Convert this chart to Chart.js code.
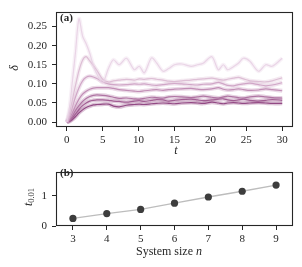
<!DOCTYPE html>
<html>
<head>
<meta charset="utf-8">
<script src="https://cdn.jsdelivr.net/npm/chart.js@4/dist/chart.umd.min.js"></script>
<style>
  body { margin: 0; background: #fff; }
  #wrap { position: relative; width: 302px; height: 267px; }
  canvas { position: absolute; left: 0; }
  #top { top: 0; }
  #bottom { top: 160px; }
</style>
</head>
<body>
<div id="wrap">
  <canvas id="top" width="302" height="160"></canvas>
  <canvas id="bottom" width="302" height="107"></canvas>
</div>
<script>
// time samples shared by all curves of panel (a)
const times = [0, 0.4, 0.8, 1.2, 1.7, 2.2, 2.7, 3.2, 3.7, 4.2, 5, 5.8, 6.5,
  7.3, 8.3, 9.4, 10.1, 10.8, 11.8, 12.5, 13.4, 14.2, 15, 16, 17.3, 18.2, 19,
  20.2, 21.1, 21.8, 22.4, 23.2, 23.9, 24.6, 25.5, 26.7, 27.7, 28.6, 30];

// delta(t) for each system size, lightest (n=3) to darkest (n=9)
const deltaN3 = [0, 0.04, 0.11, 0.18, 0.27, 0.225, 0.205, 0.18, 0.148, 0.125, 0.103, 0.14, 0.163,
  0.15, 0.167, 0.137, 0.146, 0.129, 0.168, 0.155, 0.133, 0.14, 0.15, 0.152, 0.146, 0.15, 0.154,
  0.171, 0.137, 0.15, 0.137, 0.145, 0.154, 0.167, 0.159, 0.133, 0.15, 0.146, 0.167];
const deltaN4 = [0, 0.025, 0.06, 0.095, 0.135, 0.162, 0.171, 0.16, 0.148, 0.135, 0.112, 0.105, 0.108,
  0.11, 0.112, 0.11, 0.113, 0.112, 0.114, 0.112, 0.11, 0.107, 0.106, 0.108, 0.11, 0.112, 0.113,
  0.115, 0.112, 0.11, 0.112, 0.115, 0.117, 0.113, 0.108, 0.106, 0.105, 0.108, 0.116];
const deltaN5 = [0, 0.015, 0.04, 0.065, 0.09, 0.108, 0.117, 0.12, 0.118, 0.114, 0.105, 0.1, 0.098,
  0.097, 0.098, 0.1, 0.099, 0.1, 0.097, 0.096, 0.098, 0.1, 0.101, 0.1, 0.098, 0.097, 0.099,
  0.1, 0.104, 0.1, 0.096, 0.095, 0.098, 0.1, 0.102, 0.098, 0.095, 0.097, 0.103];
const deltaN6 = [0, 0.01, 0.025, 0.042, 0.06, 0.073, 0.081, 0.086, 0.089, 0.09, 0.09, 0.09, 0.088,
  0.085, 0.083, 0.081, 0.08, 0.082, 0.084, 0.085, 0.083, 0.085, 0.086, 0.087, 0.088, 0.086, 0.085,
  0.087, 0.09, 0.086, 0.084, 0.085, 0.087, 0.085, 0.083, 0.084, 0.087, 0.085, 0.082];
const deltaN7 = [0, 0.006, 0.016, 0.03, 0.043, 0.054, 0.062, 0.067, 0.07, 0.071, 0.07, 0.068, 0.065,
  0.062, 0.063, 0.061, 0.06, 0.062, 0.065, 0.064, 0.063, 0.066, 0.067, 0.066, 0.064, 0.066, 0.068,
  0.065, 0.063, 0.066, 0.068, 0.066, 0.064, 0.063, 0.066, 0.068, 0.066, 0.064, 0.063];
const deltaN8 = [0, 0.004, 0.011, 0.021, 0.033, 0.043, 0.05, 0.055, 0.057, 0.058, 0.058, 0.057, 0.055,
  0.054, 0.052, 0.055, 0.056, 0.054, 0.057, 0.059, 0.058, 0.055, 0.057, 0.059, 0.06, 0.058, 0.056,
  0.058, 0.06, 0.061, 0.058, 0.056, 0.058, 0.06, 0.057, 0.055, 0.057, 0.059, 0.057];
const deltaN9 = [0, 0.002, 0.007, 0.014, 0.024, 0.032, 0.038, 0.042, 0.045, 0.046, 0.047, 0.047, 0.042,
  0.04, 0.044, 0.046, 0.047, 0.046, 0.048, 0.049, 0.05, 0.049, 0.048, 0.05, 0.051, 0.05, 0.049,
  0.052, 0.05, 0.048, 0.05, 0.051, 0.05, 0.049, 0.05, 0.051, 0.05, 0.049, 0.049];

const deltaSeries = [deltaN3, deltaN4, deltaN5, deltaN6, deltaN7, deltaN8, deltaN9];
const lineColors = [
  [232, 210, 228], [218, 184, 210], [204, 160, 194], [188, 134, 176],
  [170, 106, 156], [154, 82, 140], [138, 60, 123],
];

// panel (b)
const systemSizes = [3, 4, 5, 6, 7, 8, 9];
const threshTimes = [0.25, 0.41, 0.55, 0.755, 0.96, 1.15, 1.355];

const topXTicks = [0, 5, 10, 15, 20, 25, 30];
const topYTicks = [0, 0.05, 0.10, 0.15, 0.20, 0.25];
const bottomXTicks = [3, 4, 5, 6, 7, 8, 9];
const bottomYTicks = [0, 1];

const INK = '#262626';
const SERIF = "'Liberation Serif', serif";

const tickFont = { family: SERIF, size: 11 };

function axisStyle(ticks, extra) {
  return {
    type: 'linear',
    grid: { drawOnChartArea: false, drawTicks: true, tickLength: 4, tickColor: INK, tickWidth: 1 },
    border: { display: false },
    afterBuildTicks: s => { s.ticks = ticks.map(v => ({ value: v })); },
    ticks: { color: INK, font: tickFont, ...extra },
  };
}

// box around the plot area plus hand-placed labels
const frame = {
  id: 'frame',
  afterDraw(chart, args, opts) {
    const { ctx, chartArea: a } = chart;
    ctx.save();
    ctx.strokeStyle = INK;
    ctx.lineWidth = 1.1;
    ctx.strokeRect(Math.round(a.left) + 0.5, Math.round(a.top) + 0.5,
      Math.round(a.right - a.left) - 1, Math.round(a.bottom - a.top) - 1);
    ctx.fillStyle = INK;
    if (opts.draw) opts.draw(ctx);
    ctx.restore();
  },
};

function drawRuns(ctx, x, y, runs, align) {
  // runs: [text, font, dy]
  let total = 0;
  runs.forEach(r => { ctx.font = r[1]; total += ctx.measureText(r[0]).width; });
  let cx = align === 'center' ? x - total / 2 : x;
  runs.forEach(r => {
    ctx.font = r[1];
    ctx.fillText(r[0], cx, y + (r[2] || 0));
    cx += ctx.measureText(r[0]).width;
  });
}

// ---- panel (a)
const topDatasets = [];
deltaSeries.forEach((vals, i) => {
  const c = lineColors[i].join(',');
  const pts = times.map((t, k) => ({ x: t, y: vals[k] }));
  topDatasets.push({
    data: pts, borderColor: `rgba(${c},0.3)`, borderWidth: 4,
    pointRadius: 0, tension: 0.3, fill: false,
  });
  topDatasets.push({
    data: pts, borderColor: `rgba(${c},0.9)`, borderWidth: 1.2,
    pointRadius: 0, tension: 0.3, fill: false,
  });
});

new Chart(document.getElementById('top'), {
  type: 'line',
  data: { datasets: topDatasets },
  options: {
    responsive: false,
    animation: false,
    devicePixelRatio: 1,
    layout: { padding: { top: 9, right: 9, left: 0, bottom: 0 } },
    plugins: {
      legend: { display: false },
      tooltip: { enabled: false },
      frame: {
        draw(ctx) {
          ctx.textBaseline = 'middle';
          ctx.textAlign = 'left';
          ctx.font = `bold 11px ${SERIF}`;
          ctx.fillText('(a)', 60, 18.5);
          ctx.font = `italic 12px ${SERIF}`;
          ctx.textAlign = 'center';
          ctx.fillText('t', 176, 151);
          ctx.save();
          ctx.translate(15, 68);
          ctx.rotate(-Math.PI / 2);
          ctx.fillText('δ', 0, 0);
          ctx.restore();
        },
      },
    },
    scales: {
      x: {
        ...axisStyle(topXTicks, { padding: 3 }),
        min: -1.5, max: 31.5,
        afterFit: s => { s.height = 33; },
      },
      y: {
        ...axisStyle(topYTicks, { padding: 5, callback: v => v.toFixed(2) }),
        min: -0.0128, max: 0.289,
        afterFit: s => { s.width = 56; },
      },
    },
  },
  plugins: [frame],
});

// ---- panel (b)
new Chart(document.getElementById('bottom'), {
  type: 'line',
  data: {
    datasets: [{
      data: systemSizes.map((n, k) => ({ x: n, y: threshTimes[k] })),
      borderColor: '#bdbdbd',
      borderWidth: 1.3,
      pointRadius: 3.6,
      pointBackgroundColor: '#3d3d3d',
      pointBorderWidth: 0,
      tension: 0,
    }],
  },
  options: {
    responsive: false,
    animation: false,
    devicePixelRatio: 1,
    layout: { padding: { top: 7, right: 9, left: 0, bottom: 0 } },
    plugins: {
      legend: { display: false },
      tooltip: { enabled: false },
      frame: {
        draw(ctx) {
          ctx.textBaseline = 'middle';
          ctx.textAlign = 'left';
          ctx.font = `bold 11px ${SERIF}`;
          ctx.fillText('(b)', 60, 13.5);
          drawRuns(ctx, 169, 92, [
            ['System size ', `12px ${SERIF}`, 0],
            ['n', `italic 12px ${SERIF}`, 0],
          ], 'center');
          ctx.save();
          ctx.translate(29, 37);
          ctx.rotate(-Math.PI / 2);
          drawRuns(ctx, 0, 0, [
            ['t', `italic 12px ${SERIF}`, 0],
            ['0.01', `8.5px ${SERIF}`, 3],
          ], 'center');
          ctx.restore();
        },
      },
    },
    scales: {
      x: {
        ...axisStyle(bottomXTicks, { padding: 3 }),
        min: 2.5, max: 9.5,
        afterFit: s => { s.height = 41; },
      },
      y: {
        ...axisStyle(bottomYTicks, { padding: 5 }),
        min: 0, max: 1.8,
        afterFit: s => { s.width = 56; },
      },
    },
  },
  plugins: [frame],
});
</script>
</body>
</html>
